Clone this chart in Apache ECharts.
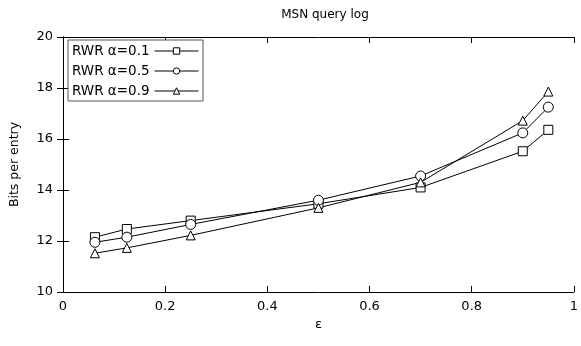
<!DOCTYPE html>
<html><head><meta charset="utf-8">
<script src="https://cdn.jsdelivr.net/npm/echarts@6/dist/echarts.min.js"></script>
<style>html,body{margin:0;padding:0;background:#fff}#c{width:581px;height:346px}</style>
</head><body><div id="c"></div>
<script>
var xs = [0.0625, 0.125, 0.25, 0.5, 0.7, 0.9, 0.95];
var s01 = [12.15, 12.47, 12.8, 13.46, 14.1, 15.52, 16.36];
var s05 = [11.95, 12.15, 12.65, 13.6, 14.55, 16.24, 17.25];
var s09 = [11.52, 11.73, 12.22, 13.3, 14.3, 16.72, 17.86];
var names = ['RWR \u03b1=0.1', 'RWR \u03b1=0.5', 'RWR \u03b1=0.9'];
var xTicks = [0, 0.2, 0.4, 0.6, 0.8, 1];
var yTicks = [10, 12, 14, 16, 18, 20];
var font = 'DejaVu Sans';
function pairs(v){return xs.map(function(x,i){return [x,v[i]];});}
var chart = echarts.init(document.getElementById('c'));
var axisLine = {show:true, lineStyle:{color:'#000', width:1}};
var tick = {show:true, inside:true, length:6, lineStyle:{color:'#000'}};
var tri = 'path://M0,10 L5,0 L10,10 Z';
function ser(name, data, sym, size){
  return {name:name, type:'line', data:pairs(data), symbol:sym, symbolSize:size,
    showAllSymbol:true,
    lineStyle:{color:'#000', width:1}, itemStyle:{color:'#fff', borderColor:'#000', borderWidth:1},
    emphasis:{disabled:true}, animation:false, z:3};
}
chart.setOption({
  animation:false,
  title:{text:'MSN query log', left:320, textAlign:'center', top:4, textStyle:{fontFamily:font, fontSize:12, fontWeight:'normal', color:'#000'}},
  grid:{left:63, right:3, top:37, bottom:54},
  legend:{left:68, top:40, orient:'vertical', align:'right', itemWidth:44, itemHeight:8, itemGap:6,
    padding:[4,4,3,4], borderColor:'#555', borderWidth:1, backgroundColor:'#fff',
    lineStyle:{width:1, color:'#000'}, itemStyle:{borderWidth:1, borderColor:'#000', color:'#fff'},
    textStyle:{fontFamily:font, fontSize:13.5, color:'#000'},
    data:names.map(function(n){return {name:n};})},
  xAxis:[{type:'value', min:0, max:1, interval:0.2, axisLine:axisLine, axisTick:tick, splitLine:{show:false},
    axisLabel:{fontFamily:font, fontSize:13, color:'#000', margin:8},
    name:'\u03b5', nameLocation:'middle', nameGap:22, nameTextStyle:{fontFamily:font, fontSize:13, color:'#000'}},
   {type:'value', position:'top', min:0, max:1, interval:0.2, axisLine:axisLine, axisTick:tick, axisLabel:{show:false}, splitLine:{show:false}}],
  yAxis:[{type:'value', min:10, max:20, interval:2, axisLine:axisLine, axisTick:tick, splitLine:{show:false},
    axisLabel:{fontFamily:font, fontSize:13, color:'#000', margin:10},
    name:'Bits per entry', nameLocation:'middle', nameGap:42, nameTextStyle:{fontFamily:font, fontSize:12.5, color:'#000'}},
   {type:'value', position:'right', min:10, max:20, interval:2, axisLine:axisLine, axisTick:tick, axisLabel:{show:false}, splitLine:{show:false}}],
  series:[ser(names[0], s01, 'rect', 9), ser(names[1], s05, 'circle', 10), ser(names[2], s09, tri, 9)]
});
</script></body></html>
